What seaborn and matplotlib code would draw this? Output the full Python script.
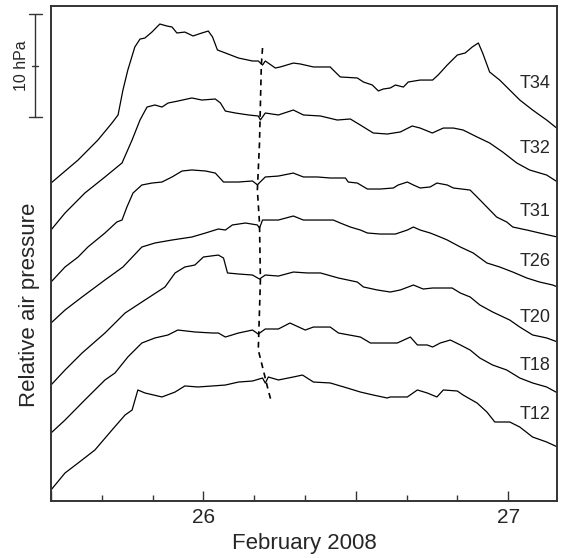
import numpy as np
import pandas as pd
import matplotlib
matplotlib.use("Agg")
import matplotlib.pyplot as plt
import matplotlib.transforms as mtransforms
from matplotlib.ticker import FixedLocator
import seaborn as sns

# Pressure traces (time in days of February 2008, pressure in hPa with a
# vertical offset per sensor so the records stack)
t34_day = [25.500, 25.589, 25.654, 25.700, 25.720, 25.736, 25.752, 25.775, 25.792, 25.808,
           25.831, 25.857, 25.880, 25.897, 25.913, 25.939, 25.966, 25.995, 26.016, 26.030,
           26.046, 26.072, 26.115, 26.161, 26.180, 26.194, 26.203, 26.236, 26.252, 26.295,
           26.318, 26.361, 26.416, 26.426, 26.449, 26.505, 26.525, 26.554, 26.574, 26.590,
           26.613, 26.630, 26.656, 26.672, 26.711, 26.752, 26.770, 26.800, 26.833, 26.859,
           26.882, 26.902, 26.916, 26.939, 26.972, 27.005, 27.038, 27.080, 27.126, 27.159]
t34_hpa = [30.87, 33.11, 35.05, 36.70, 37.48, 39.90, 41.84, 44.08, 44.85, 44.95,
           45.53, 46.31, 46.12, 46.02, 45.44, 45.53, 45.15, 45.44, 45.63, 45.05,
           43.79, 43.50, 43.01, 42.72, 42.72, 42.33, 42.72, 42.04, 42.14, 42.52,
           42.43, 42.14, 42.14, 41.84, 41.17, 41.07, 40.68, 40.39, 39.81, 40.00,
           40.10, 40.39, 40.19, 40.68, 40.87, 40.87, 41.36, 42.33, 43.30, 43.50,
           44.08, 44.47, 43.50, 41.65, 40.87, 39.90, 38.93, 37.96, 36.99, 36.21]

t32_day = [25.500, 25.546, 25.611, 25.677, 25.733, 25.766, 25.792, 25.815, 25.841, 25.864,
           25.884, 25.916, 25.962, 25.995, 26.039, 26.056, 26.072, 26.105, 26.148, 26.180,
           26.187, 26.203, 26.246, 26.295, 26.328, 26.384, 26.439, 26.482, 26.515, 26.557,
           26.603, 26.646, 26.685, 26.711, 26.751, 26.787, 26.820, 26.852, 26.898, 26.939,
           26.982, 27.028, 27.070, 27.126, 27.162]
t32_hpa = [26.31, 27.96, 29.90, 31.46, 32.82, 35.05, 36.99, 38.25, 38.45, 38.25,
           38.64, 38.83, 39.13, 38.93, 39.03, 38.64, 37.86, 37.67, 37.48, 37.38,
           37.00, 37.67, 37.48, 37.96, 37.48, 37.38, 36.99, 37.09, 36.50, 35.73,
           35.63, 35.83, 36.41, 36.21, 35.73, 36.21, 36.21, 36.02, 35.34, 34.76,
           33.88, 32.82, 32.14, 31.65, 30.97]

t31_day = [25.500, 25.546, 25.589, 25.621, 25.677, 25.716, 25.733, 25.749, 25.769, 25.798,
           25.831, 25.864, 25.897, 25.930, 25.962, 26.007, 26.039, 26.066, 26.115, 26.161,
           26.177, 26.203, 26.246, 26.295, 26.328, 26.374, 26.416, 26.466, 26.475, 26.505,
           26.538, 26.580, 26.623, 26.639, 26.669, 26.689, 26.711, 26.744, 26.766, 26.800,
           26.820, 26.875, 26.898, 26.930, 26.962, 26.995, 27.015, 27.061, 27.103, 27.146,
           27.162]
t31_hpa = [21.26, 22.72, 23.69, 24.66, 26.02, 27.09, 27.28, 28.54, 29.90, 30.68,
           30.87, 30.97, 31.46, 32.04, 32.14, 32.04, 31.84, 30.97, 30.97, 31.07,
           30.70, 31.46, 31.55, 31.84, 31.46, 31.46, 31.36, 31.36, 30.97, 30.87,
           30.29, 30.29, 30.39, 30.68, 30.97, 30.68, 30.39, 30.49, 30.87, 30.68,
           30.39, 30.19, 29.51, 28.54, 27.57, 27.09, 26.60, 26.31, 26.02, 25.73,
           25.63]

t26_day = [25.500, 25.546, 25.602, 25.677, 25.736, 25.798, 25.841, 25.897, 25.962, 26.007,
           26.049, 26.072, 26.095, 26.138, 26.177, 26.184, 26.194, 26.246, 26.295, 26.328,
           26.426, 26.449, 26.482, 26.515, 26.538, 26.580, 26.630, 26.669, 26.689, 26.711,
           26.744, 26.777, 26.800, 26.843, 26.885, 26.930, 26.972, 27.015, 27.061, 27.103,
           27.146, 27.162]
t26_hpa = [17.28, 18.54, 19.81, 21.46, 22.72, 24.66, 25.05, 25.34, 25.63, 26.02,
           26.41, 26.31, 26.80, 26.99, 26.80, 26.50, 27.28, 27.28, 27.67, 27.28,
           27.28, 26.99, 26.60, 26.31, 26.02, 25.92, 25.92, 26.31, 26.60, 26.31,
           26.02, 25.63, 25.34, 24.66, 24.08, 23.11, 22.72, 22.23, 21.65, 21.26,
           20.97, 20.78]

t20_day = [25.500, 25.546, 25.602, 25.677, 25.743, 25.808, 25.874, 25.907, 25.939, 25.972,
           26.000, 26.049, 26.066, 26.079, 26.115, 26.161, 26.184, 26.203, 26.246, 26.295,
           26.341, 26.384, 26.443, 26.505, 26.525, 26.570, 26.613, 26.646, 26.689, 26.721,
           26.752, 26.816, 26.843, 26.875, 26.907, 26.949, 27.005, 27.038, 27.080, 27.126,
           27.162]
t20_hpa = [11.26, 12.72, 14.37, 16.31, 18.25, 19.51, 20.78, 22.14, 22.72, 22.91,
           23.69, 23.88, 23.59, 22.14, 22.04, 21.94, 21.55, 21.94, 21.84, 22.23,
           22.14, 22.14, 21.65, 21.26, 20.78, 20.49, 20.29, 20.49, 20.97, 20.58,
           20.68, 20.68, 20.19, 19.81, 19.03, 18.35, 17.57, 16.89, 16.12, 15.83,
           15.44]

t18_day = [25.500, 25.546, 25.611, 25.677, 25.710, 25.752, 25.798, 25.841, 25.884, 25.916,
           25.972, 26.030, 26.049, 26.072, 26.115, 26.161, 26.180, 26.203, 26.246, 26.284,
           26.334, 26.361, 26.416, 26.443, 26.515, 26.548, 26.580, 26.636, 26.679, 26.702,
           26.734, 26.752, 26.777, 26.810, 26.843, 26.875, 26.907, 26.949, 26.995, 27.038,
           27.080, 27.126, 27.162]
t18_hpa = [6.60, 7.86, 9.81, 11.75, 12.43, 13.98, 15.34, 15.83, 16.12, 16.60,
           16.41, 16.31, 16.31, 15.92, 16.31, 16.60, 16.21, 16.70, 16.70, 17.28,
           16.60, 16.89, 16.89, 16.31, 15.92, 15.34, 15.34, 15.34, 15.92, 15.15,
           15.15, 14.95, 15.34, 15.63, 15.15, 14.66, 13.88, 13.20, 12.72, 11.94,
           11.46, 11.07, 10.49]

t12_day = [25.500, 25.546, 25.589, 25.644, 25.700, 25.743, 25.766, 25.785, 25.808, 25.864,
           25.907, 25.939, 25.982, 26.030, 26.072, 26.115, 26.161, 26.194, 26.203, 26.213,
           26.246, 26.295, 26.325, 26.361, 26.416, 26.472, 26.515, 26.557, 26.603, 26.613,
           26.669, 26.702, 26.734, 26.766, 26.787, 26.833, 26.852, 26.898, 26.930, 26.956,
           27.005, 27.038, 27.080, 27.126, 27.162]
t12_hpa = [1.07, 2.72, 3.69, 4.95, 6.89, 8.35, 8.83, 10.78, 10.49, 10.10,
           10.58, 11.17, 11.07, 11.17, 11.26, 11.55, 11.65, 11.94, 11.45, 12.04,
           11.75, 12.04, 12.23, 11.55, 11.46, 10.97, 10.58, 10.29, 10.00, 10.10,
           10.10, 10.78, 10.49, 10.10, 10.78, 10.68, 10.29, 9.51, 8.64, 7.67,
           7.67, 7.18, 6.21, 5.73, 5.24]

# Arrival of the pressure jump at each sensor
front_day = [26.194, 26.190, 26.184, 26.177, 26.184, 26.187, 26.180, 26.194, 26.210, 26.223]
front_hpa = [43.98, 42.33, 34.76, 30.19, 26.99, 21.46, 14.66, 13.01, 11.07, 9.61]

sensors = ["T34", "T32", "T31", "T26", "T20", "T18", "T12"]
label_day = [27.089] * 7
label_hpa = [40.58, 34.27, 28.06, 23.30, 17.86, 13.11, 8.35]

tick_major = [25.5, 26.0, 26.5, 27.0]
tick_labels = {26.0: "26", 27.0: "27"}
tick_minor = [25.6667, 25.8333, 26.1667, 26.3333, 26.6667, 26.8333, 27.1667]

series = {
    "T34": (t34_day, t34_hpa), "T32": (t32_day, t32_hpa), "T31": (t31_day, t31_hpa),
    "T26": (t26_day, t26_hpa), "T20": (t20_day, t20_hpa), "T18": (t18_day, t18_hpa),
    "T12": (t12_day, t12_hpa),
}
frames = [pd.DataFrame({"day": d, "hpa": p, "sensor": name, "order": np.arange(len(d))})
          for name, (d, p) in series.items()]
df = pd.concat(frames, ignore_index=True)

sns.set_style("ticks")
plt.rcParams["font.family"] = ["Liberation Sans", "DejaVu Sans"]

fig = plt.figure(figsize=(5.61, 5.58), dpi=100)
ax = fig.add_axes([51 / 561, 1 - 501 / 558, 506 / 561, 495 / 558])

sns.lineplot(data=df, x="day", y="hpa", hue="sensor", units="sensor",
             palette={s: "black" for s in sensors}, estimator=None, sort=False,
             legend=False, linewidth=0.9, ax=ax)

ax.plot(front_day, front_hpa, color="black", linewidth=1.2, dashes=(3.5, 2.8))

for name, xd, yd in zip(sensors, label_day, label_hpa):
    ax.text(xd, yd, name, ha="center", va="center", fontsize=13)

ax.set_xlim(25.5, 27.16)
ax.set_ylim(0, 48.06)

ax.xaxis.set_major_locator(FixedLocator(tick_major))
ax.xaxis.set_minor_locator(FixedLocator(tick_minor))
ax.set_xticklabels([tick_labels.get(t, "") for t in tick_major])
ax.tick_params(axis="x", which="major", direction="in", length=7, width=1.0,
               labelsize=15, pad=5, color="#333333")
ax.tick_params(axis="x", which="minor", direction="in", length=4, width=1.0,
               color="#333333")
ax.set_yticks([])
ax.set_xlabel("February 2008", fontsize=16, labelpad=4)
ax.set_ylabel("")

for sp in ax.spines.values():
    sp.set_visible(True)
    sp.set_linewidth(1.4)
    sp.set_color("#333333")

fig.text(30 / 561, 1 - 305 / 558, "Relative air pressure", rotation=90,
         ha="center", va="center", fontsize=16)

# 10 hPa scale bar to the left of the axes
trans = mtransforms.blended_transform_factory(ax.transAxes, ax.transData)
bar_x = -16 / 506
cap = 6.5 / 506
bar_lo, bar_hi = 37.28, 47.28
bar_kw = dict(color="#333333", linewidth=1.0, transform=trans, clip_on=False)
ax.plot([bar_x, bar_x], [bar_lo, bar_hi], **bar_kw)
ax.plot([bar_x - cap, bar_x + cap], [bar_lo, bar_lo], **bar_kw)
ax.plot([bar_x - cap, bar_x + cap], [bar_hi, bar_hi], **bar_kw)
ax.plot([bar_x - 3 / 506, bar_x + 3 / 506], [(bar_lo + bar_hi) / 2] * 2, **bar_kw)
ax.text(-30 / 506, (bar_lo + bar_hi) / 2, "10 hPa", rotation=90, ha="center",
        va="center", fontsize=11.5, transform=trans, clip_on=False)

fig.savefig("out.png", dpi=100)
